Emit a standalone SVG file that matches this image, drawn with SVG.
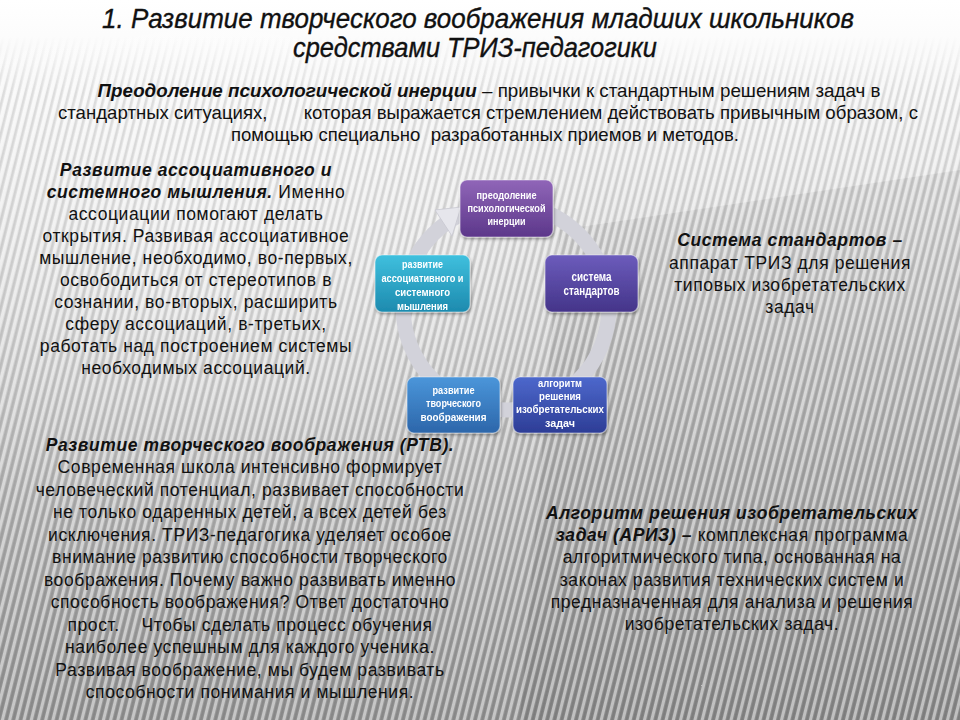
<svg xmlns="http://www.w3.org/2000/svg" width="960" height="720" viewBox="0 0 960 720">
<style>
.title{font-family:"Liberation Sans",Arial,sans-serif;font-style:italic;font-size:27px;fill:#111;stroke:#111;stroke-width:0.35;text-anchor:middle}
.intro{font-family:"Liberation Sans",Arial,sans-serif;font-size:19px;fill:#111;text-anchor:middle}
.body{font-family:"Liberation Sans",Arial,sans-serif;font-size:17.5px;letter-spacing:0.6px;fill:#111;text-anchor:middle}
.bi{font-weight:bold;font-style:italic}
.ntext{font-family:"Liberation Sans",sans-serif;font-weight:bold;font-size:11.5px;fill:#fff;text-anchor:middle}
.node rect{stroke:#ffffff;stroke-opacity:0.45;stroke-width:1.2}
</style>
<defs>
<linearGradient id="bg" x1="0" y1="0" x2="0" y2="1">
<stop offset="0" stop-color="#ffffff"/>
<stop offset="0.08" stop-color="#fafafa"/>
<stop offset="0.25" stop-color="#e6e6e6"/>
<stop offset="0.5" stop-color="#c9c9c9"/>
<stop offset="0.75" stop-color="#b0b0b0"/>
<stop offset="1" stop-color="#969696"/>
</linearGradient>
<radialGradient id="glow" cx="0.22" cy="0.32" r="0.42">
<stop offset="0" stop-color="#ffffff" stop-opacity="0.5"/>
<stop offset="1" stop-color="#ffffff" stop-opacity="0"/>
</radialGradient>
<linearGradient id="fade" x1="0" y1="0" x2="0" y2="1">
<stop offset="0" stop-color="#000"/>
<stop offset="0.05" stop-color="#000"/>
<stop offset="0.13" stop-color="#fff"/>
<stop offset="1" stop-color="#fff"/>
</linearGradient>
<mask id="stripeMask"><rect width="960" height="720" fill="url(#fade)"/></mask>
<pattern id="stripes" patternUnits="userSpaceOnUse" width="7" height="40" patternTransform="rotate(14)">
<rect x="0" y="0" width="3" height="40" fill="#ffffff" fill-opacity="0.45"/>
<rect x="4" y="0" width="2.5" height="40" fill="#000000" fill-opacity="0.1"/>
</pattern>
<linearGradient id="g1" x1="0" y1="0" x2="0" y2="1"><stop offset="0" stop-color="#9066b8"/><stop offset="1" stop-color="#5c378a"/></linearGradient>
<linearGradient id="g2" x1="0" y1="0" x2="0" y2="1"><stop offset="0" stop-color="#6c5cbc"/><stop offset="1" stop-color="#443489"/></linearGradient>
<linearGradient id="g3" x1="0" y1="0" x2="0" y2="1"><stop offset="0" stop-color="#4d68cc"/><stop offset="1" stop-color="#2d3d96"/></linearGradient>
<linearGradient id="g4" x1="0" y1="0" x2="0" y2="1"><stop offset="0" stop-color="#4b96da"/><stop offset="1" stop-color="#2c66aa"/></linearGradient>
<linearGradient id="g5" x1="0" y1="0" x2="0" y2="1"><stop offset="0" stop-color="#3fc0de"/><stop offset="1" stop-color="#1d8aae"/></linearGradient>
<filter id="sh" x="-20%" y="-20%" width="140%" height="150%"><feDropShadow dx="1" dy="2" stdDeviation="1.5" flood-color="#000" flood-opacity="0.35"/></filter>
</defs>

<!-- background -->
<rect width="960" height="720" fill="url(#bg)"/>
<polygon points="560,230 960,170 960,720 520,720" fill="#000" fill-opacity="0.07"/>
<rect width="960" height="720" fill="url(#glow)"/>
<rect width="960" height="720" fill="url(#stripes)" mask="url(#stripeMask)"/>

<!-- title and intro -->
<text class="title" x="478" y="28" textLength="752" lengthAdjust="spacingAndGlyphs">1. Развитие творческого воображения младших школьников</text>
<text class="title" x="475" y="57" textLength="364" lengthAdjust="spacingAndGlyphs">средствами ТРИЗ-педагогики</text>
<text class="intro" x="489" y="97" textLength="783" lengthAdjust="spacingAndGlyphs"><tspan class="bi">Преодоление психологической инерции</tspan> – привычки к стандартным решениям задач в</text>
<text class="intro" x="488" y="119" textLength="860" lengthAdjust="spacingAndGlyphs" xml:space="preserve">стандартных ситуациях,       которая выражается стремлением действовать привычным образом, с</text>
<text class="intro" x="485" y="141" textLength="508" lengthAdjust="spacingAndGlyphs" xml:space="preserve">помощью специально  разработанных приемов и методов.</text>

<!-- left text -->
<text class="body" x="196" y="176"><tspan class="bi">Развитие ассоциативного и</tspan></text>
<text class="body" x="196" y="198"><tspan class="bi">системного мышления.</tspan> Именно</text>
<text class="body" x="196" y="220">ассоциации помогают делать</text>
<text class="body" x="196" y="242">открытия. Развивая ассоциативное</text>
<text class="body" x="196" y="264">мышление, необходимо, во-первых,</text>
<text class="body" x="196" y="286">освободиться от стереотипов в</text>
<text class="body" x="196" y="308">сознании, во-вторых, расширить</text>
<text class="body" x="196" y="330">сферу ассоциаций, в-третьих,</text>
<text class="body" x="196" y="352">работать над построением системы</text>
<text class="body" x="196" y="374">необходимых ассоциаций.</text>

<!-- right text -->
<text class="body" x="790" y="246"><tspan class="bi">Система стандартов –</tspan></text>
<text class="body" x="790" y="269">аппарат ТРИЗ для решения</text>
<text class="body" x="790" y="291">типовых изобретательских</text>
<text class="body" x="790" y="313">задач</text>

<!-- bottom left text -->
<text class="body" x="250" y="451"><tspan class="bi">Развитие творческого воображения (РТВ).</tspan></text>
<text class="body" x="250" y="473">Современная школа интенсивно формирует</text>
<text class="body" x="250" y="496">человеческий потенциал, развивает способности</text>
<text class="body" x="250" y="518">не только одаренных детей, а всех детей без</text>
<text class="body" x="250" y="541">исключения. ТРИЗ-педагогика уделяет особое</text>
<text class="body" x="250" y="563">внимание развитию способности творческого</text>
<text class="body" x="250" y="586">воображения. Почему важно развивать именно</text>
<text class="body" x="250" y="608">способность воображения? Ответ достаточно</text>
<text class="body" x="250" y="631" xml:space="preserve">прост.    Чтобы сделать процесс обучения</text>
<text class="body" x="250" y="653">наиболее успешным для каждого ученика.</text>
<text class="body" x="250" y="676">Развивая воображение, мы будем развивать</text>
<text class="body" x="250" y="698">способности понимания и мышления.</text>

<!-- bottom right text -->
<text class="body" x="732" y="519"><tspan class="bi">Алгоритм решения изобретательских</tspan></text>
<text class="body" x="732" y="541"><tspan class="bi">задач (АРИЗ) –</tspan> комплексная программа</text>
<text class="body" x="732" y="563">алгоритмического типа, основанная на</text>
<text class="body" x="732" y="586">законах развития технических систем и</text>
<text class="body" x="732" y="608">предназначенная для анализа и решения</text>
<text class="body" x="732" y="630">изобретательских задач.</text>

<!-- connectors: cycle ring -->
<g id="connectors">
<circle cx="506" cy="307" r="103" fill="none" stroke="#d2d2da" stroke-width="15"/>
<polygon points="461,207 435,210 452,236" fill="#e6e6ec" stroke="#c8c8d0" stroke-width="0.8"/>
</g>

<!-- nodes -->
<g id="node-inertia" class="node" filter="url(#sh)">
<rect x="460" y="180" width="93" height="57" rx="7" fill="url(#g1)"/>
<text class="ntext" x="506.5" y="199" textLength="60" lengthAdjust="spacingAndGlyphs">преодоление</text>
<text class="ntext" x="506.5" y="212" textLength="78" lengthAdjust="spacingAndGlyphs">психологической</text>
<text class="ntext" x="506.5" y="225" textLength="38" lengthAdjust="spacingAndGlyphs">инерции</text>
</g>
<g id="node-standards" class="node" filter="url(#sh)">
<rect x="545" y="255" width="93" height="57" rx="7" fill="url(#g2)"/>
<text class="ntext" x="591.5" y="281" style="font-size:12.5px" textLength="40" lengthAdjust="spacingAndGlyphs">система</text>
<text class="ntext" x="591.5" y="295" style="font-size:12.5px" textLength="56" lengthAdjust="spacingAndGlyphs">стандартов</text>
</g>
<g id="node-ariz" class="node" filter="url(#sh)">
<rect x="513" y="377" width="94" height="56" rx="7" fill="url(#g3)"/>
<text class="ntext" x="560" y="387" textLength="44" lengthAdjust="spacingAndGlyphs">алгоритм</text>
<text class="ntext" x="560" y="400" textLength="42" lengthAdjust="spacingAndGlyphs">решения</text>
<text class="ntext" x="560" y="413" textLength="88" lengthAdjust="spacingAndGlyphs">изобретательских</text>
<text class="ntext" x="560" y="427" textLength="30" lengthAdjust="spacingAndGlyphs">задач</text>
</g>
<g id="node-rtv" class="node" filter="url(#sh)">
<rect x="407" y="377" width="93" height="56" rx="7" fill="url(#g4)"/>
<text class="ntext" x="453.5" y="394" textLength="42" lengthAdjust="spacingAndGlyphs">развитие</text>
<text class="ntext" x="453.5" y="407" textLength="55" lengthAdjust="spacingAndGlyphs">творческого</text>
<text class="ntext" x="453.5" y="421" textLength="66" lengthAdjust="spacingAndGlyphs">воображения</text>
</g>
<g id="node-assoc" class="node" filter="url(#sh)">
<rect x="375" y="255" width="95" height="57" rx="7" fill="url(#g5)"/>
<text class="ntext" x="422.5" y="268" textLength="41" lengthAdjust="spacingAndGlyphs">развитие</text>
<text class="ntext" x="422.5" y="282" textLength="82" lengthAdjust="spacingAndGlyphs">ассоциативного и</text>
<text class="ntext" x="422.5" y="296" textLength="55" lengthAdjust="spacingAndGlyphs">системного</text>
<text class="ntext" x="422.5" y="310" textLength="51" lengthAdjust="spacingAndGlyphs">мышления</text>
</g>
</svg>
